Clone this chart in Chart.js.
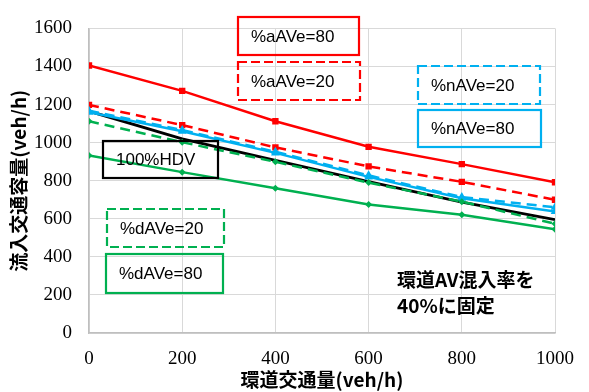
<!DOCTYPE html>
<html><head><meta charset="utf-8">
<script src="https://cdn.jsdelivr.net/npm/chart.js@4/dist/chart.umd.min.js"></script>
<style>html,body{margin:0;padding:0;background:#fff}#wrap{width:589px;height:392px}</style>
</head><body><div id="wrap"><canvas id="c" width="589" height="392"></canvas></div>
<script>
const xValues = [0, 200, 400, 600, 800, 1000];
const aAVe80 = [1405, 1272, 1112, 978, 887, 792];
const aAVe20 = [1198, 1092, 975, 875, 794, 700];
const nAVe20 = [1168, 1066, 952, 828, 714, 660];
const nAVe80 = [1160, 1060, 946, 820, 708, 638];
const hdv100 = [1165, 1020, 907, 795, 688, 595];
const dAVe20 = [1112, 1002, 899, 790, 690, 574];
const dAVe80 = [933, 845, 760, 675, 621, 545];
const yTicks = [0, 200, 400, 600, 800, 1000, 1200, 1400, 1600];
const xTitle = '環道交通量(veh/h)';
const yTitle = '流入交通容量(veh/h)';
const noteLines = ['環道AV混入率を', '40%に固定'];

const RED = '#FF0000', BLUE = '#00B0F0', GREEN = '#00B050', BLACK = '#000000';
const pts = arr => arr.map((v, i) => ({x: xValues[i], y: v}));

function ds(label, data, color, dashed, style, radius, width) {
  return {label, data: pts(data), borderColor: color, backgroundColor: color,
    borderWidth: width || 2.5, borderDash: dashed ? [10, 6] : [], pointStyle: style,
    pointRadius: radius, pointBorderWidth: 0, tension: 0, showLine: true, fill: false};
}

const boxes = [
  {text: '%aAVe=80', x: 238, y: 17, w: 121, h: 38, color: RED, dash: false},
  {text: '%aAVe=20', x: 238, y: 62, w: 122, h: 38, color: RED, dash: true},
  {text: '%nAVe=20', x: 418, y: 66, w: 122, h: 38, color: BLUE, dash: true},
  {text: '%nAVe=80', x: 418, y: 110, w: 123, h: 37, color: BLUE, dash: false},
  {text: '100%HDV', x: 103, y: 141, w: 115, h: 37, color: BLACK, dash: false},
  {text: '%dAVe=20', x: 107, y: 209, w: 117, h: 38, color: GREEN, dash: true},
  {text: '%dAVe=80', x: 106, y: 254, w: 117, h: 39, color: GREEN, dash: false}
];

const annot = {
  id: 'annot',
  afterDatasetsDraw(chart) {
    const ctx = chart.ctx;
    ctx.save();
    boxes.forEach(b => {
      ctx.strokeStyle = b.color;
      ctx.lineWidth = 2.2;
      ctx.setLineDash(b.dash ? [9, 4] : []);
      ctx.strokeRect(b.x, b.y, b.w, b.h);
      ctx.setLineDash([]);
      ctx.fillStyle = '#000';
      ctx.font = '17px "Liberation Sans", Arial, sans-serif';
      ctx.textAlign = 'left';
      ctx.textBaseline = 'middle';
      ctx.fillText(b.text, b.x + 13, b.y + b.h / 2 + 1);
    });
    ctx.font = 'bold 19px "Noto Sans CJK JP", sans-serif';
    ctx.fillStyle = '#000';
    ctx.textAlign = 'left';
    ctx.textBaseline = 'middle';
    ctx.fillText(noteLines[0], 397, 280);
    ctx.fillText(noteLines[1], 397, 306);
    ctx.restore();
  }
};

new Chart(document.getElementById('c'), {
  type: 'line',
  data: {datasets: [
    ds('%dAVe=80', dAVe80, GREEN, false, 'rectRot', 3.5),
    ds('%dAVe=20', dAVe20, GREEN, true, 'rectRot', 3.5),
    ds('%nAVe=20', nAVe20, BLUE, true, 'triangle', 5),
    ds('%nAVe=80', nAVe80, BLUE, false, 'triangle', 5),
    ds('100%HDV', hdv100, BLACK, false, 'circle', 0, 2.8),
    ds('%aAVe=20', aAVe20, RED, true, 'rect', 4.5),
    ds('%aAVe=80', aAVe80, RED, false, 'rect', 4.5)
  ]},
  options: {
    responsive: false, animation: false,
    layout: {padding: {top: 16, right: 33, left: 0, bottom: 0}},
    plugins: {legend: {display: false}, tooltip: {enabled: false}},
    scales: {
      x: {type: 'linear', min: 0, max: 1000,
        afterBuildTicks: s => { s.ticks = xValues.map(v => ({value: v})); },
        afterFit: s => { s.height = 59; },
        grid: {color: '#d9d9d9', lineWidth: 1, drawTicks: false},
        border: {color: '#bfbfbf', width: 1.5},
        ticks: {padding: 15, color: '#000', maxRotation: 0, callback: v => String(v),
          font: {family: '"Liberation Serif", "Times New Roman", serif', size: 19}},
        title: {display: true, text: xTitle, color: '#000', padding: {top: 0, bottom: 1},
          font: {family: '"Noto Sans CJK JP", sans-serif', size: 19, weight: 'bold'}}
      },
      y: {type: 'linear', min: 0, max: 1600,
        afterBuildTicks: s => { s.ticks = yTicks.map(v => ({value: v})); },
        afterFit: s => { s.width = 89; },
        grid: {color: '#d9d9d9', lineWidth: 1, drawTicks: false},
        border: {color: '#bfbfbf', width: 1.5},
        ticks: {padding: 17, color: '#000', callback: v => String(v),
          font: {family: '"Liberation Serif", "Times New Roman", serif', size: 19}},
        title: {display: true, text: yTitle, color: '#000', padding: {top: 7, bottom: 0},
          font: {family: '"Noto Sans CJK JP", sans-serif', size: 19, weight: 'bold'}}
      }
    }
  },
  plugins: [annot]
});
</script></body></html>
